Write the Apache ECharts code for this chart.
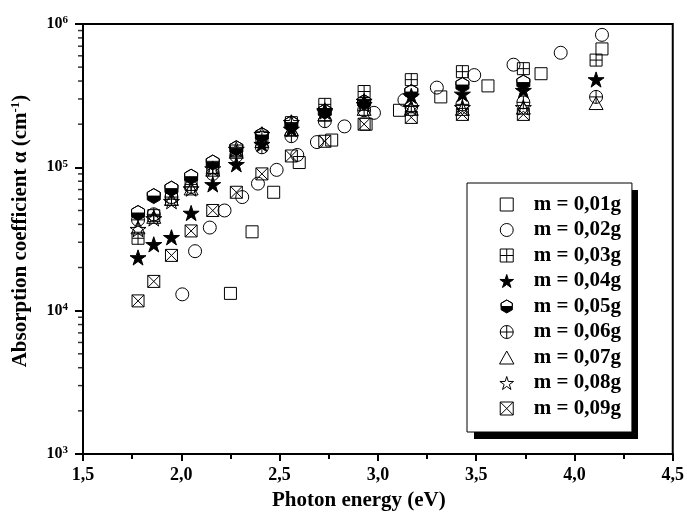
<!DOCTYPE html>
<html>
<head>
<meta charset="utf-8">
<script src="https://cdn.jsdelivr.net/npm/echarts@6/dist/echarts.min.js"></script>
<style>
html, body { margin: 0; padding: 0; background: #fff; }
#main { width: 687px; height: 516px; }
</style>
</head>
<body>
<div id="main"></div>
<script>
// photon energy (eV) shared by the m = 0,03 ... 0,09 g samples
var xCluster = [1.78, 1.86, 1.95, 2.05, 2.16, 2.28, 2.41, 2.56, 2.73, 2.93, 3.17, 3.43, 3.74, 4.11];

var x01 = [2.25, 2.36, 2.47, 2.60, 2.765, 2.94, 3.11, 3.32, 3.56, 3.83, 4.14];
var y01 = [1.32e4, 3.55e4, 6.7e4, 1.08e5, 1.55e5, 2.0e5, 2.5e5, 3.1e5, 3.7e5, 4.5e5, 6.7e5];

var x02 = [2.005, 2.07, 2.145, 2.22, 2.31, 2.39, 2.485, 2.59, 2.69, 2.83, 2.98, 3.135, 3.30, 3.49, 3.69, 3.93, 4.14];
var y02 = [1.3e4, 2.6e4, 3.8e4, 5.0e4, 6.2e4, 7.7e4, 9.6e4, 1.22e5, 1.5e5, 1.93e5, 2.4e5, 2.95e5, 3.6e5, 4.4e5, 5.2e5, 6.3e5, 8.4e5];

var y03 = [3.2e4, 4.6e4, 6.0e4, 7.6e4, 1.0e5, 1.3e5, 1.62e5, 2.05e5, 2.75e5, 3.38e5, 4.09e5, 4.65e5, 4.88e5, 5.6e5];
var y04 = [2.35e4, 2.9e4, 3.25e4, 4.8e4, 7.6e4, 1.05e5, 1.45e5, 1.85e5, 2.5e5, 2.9e5, 3.15e5, 3.25e5, 3.45e5, 4.1e5];
var y05 = [4.8e4, 6.3e4, 7.1e4, 8.6e4, 1.08e5, 1.36e5, 1.68e5, 2.03e5, 2.45e5, 2.85e5, 3.35e5, 3.75e5, 3.9e5];
var y06 = [4.3e4, 4.7e4, 6.2e4, 7.3e4, 9.0e4, 1.2e5, 1.38e5, 1.65e5, 2.1e5, 2.5e5, 2.66e5, 2.75e5, 2.84e5, 3.1e5];
var y07 = [3.8e4, 4.5e4, 6.0e4, 7.1e4, 9.6e4, 1.28e5, 1.52e5, 1.84e5, 2.34e5, 2.55e5, 2.55e5, 2.55e5, 2.6e5, 2.8e5];
var y08 = [3.7e4, 4.4e4, 5.8e4, 7.1e4, 9.8e4, 1.34e5, 1.7e5, 2.06e5, 2.45e5, 2.75e5, 2.62e5, 2.62e5, 2.62e5];
var y09 = [1.17e4, 1.6e4, 2.43e4, 3.6e4, 5.0e4, 6.7e4, 9.0e4, 1.2e5, 1.52e5, 2.0e5, 2.23e5, 2.34e5, 2.34e5];

var names = ['m = 0,01g', 'm = 0,02g', 'm = 0,03g', 'm = 0,04g', 'm = 0,05g',
             'm = 0,06g', 'm = 0,07g', 'm = 0,08g', 'm = 0,09g'];

// log axis minor ticks (2..9 of every decade)
var minorTickVals = [2e3, 3e3, 4e3, 5e3, 6e3, 7e3, 8e3, 9e3,
                     2e4, 3e4, 4e4, 5e4, 6e4, 7e4, 8e4, 9e4,
                     2e5, 3e5, 4e5, 5e5, 6e5, 7e5, 8e5, 9e5];

var SQ = 'path://M0,0L10,0L10,10L0,10Z';
var TRI = 'path://M5,0L10,9L0,9Z';
var SQ_PLUS = 'path://M0,0L10,0L10,10L0,10ZM5,0L5,10M0,5L10,5';
var SQ_X = 'path://M0,0L10,0L10,10L0,10ZM0,0L10,10M10,0L0,10';
var O_PLUS = 'path://M0,5A5,5,0,1,1,10,5A5,5,0,1,1,0,5ZM5,0L5,10M0,5L10,5';
var STAR = 'path://M50,0L61.17,34.63L97.55,34.55L68.07,55.87L79.39,90.45L50,69L20.61,90.45L31.93,55.87L2.45,34.55L38.83,34.63Z';
// lower half filled, upper half only outlined (zero-area retraced polygon)
var HEX = 'path://M0.67,5L9.33,5L9.33,7.5L5,10L0.67,7.5ZM0.67,5L0.67,2.5L5,0L9.33,2.5L9.33,5L9.33,2.5L5,0L0.67,2.5Z';

var FONT = '"Liberation Serif", "Times New Roman", serif';

function pairs(xs, ys) {
  var out = [];
  for (var i = 0; i < ys.length; i++) out.push([xs[i], ys[i]]);
  return out;
}

function mk(name, xs, ys, symbol, size, filled) {
  return {
    name: name,
    type: 'scatter',
    data: pairs(xs, ys),
    symbol: symbol,
    symbolSize: size,
    symbolKeepAspect: true,
    itemStyle: {
      color: filled ? '#000' : 'rgba(0,0,0,0)',
      borderColor: '#000',
      borderWidth: 1,
      opacity: 1
    },
    emphasis: { disabled: true }
  };
}

var series = [
  mk(names[0], x01, y01, SQ, 12, false),
  mk(names[1], x02, y02, 'circle', 13, false),
  mk(names[2], xCluster, y03, SQ_PLUS, 12, false),
  mk(names[3], xCluster, y04, STAR, 16, true),
  mk(names[4], xCluster, y05, HEX, 15, true),
  mk(names[5], xCluster, y06, O_PLUS, 13, false),
  mk(names[6], xCluster, y07, TRI, 14, false),
  mk(names[7], xCluster, y08, STAR, 16, false),
  mk(names[8], xCluster, y09, SQ_X, 12, false),
  {
    name: 'minorTicks',
    type: 'scatter',
    data: minorTickVals.map(function (v) { return [1.5, v]; }),
    symbol: 'rect',
    symbolSize: [5, 1.5],
    symbolOffset: [-2.5, 0],
    clip: false,
    silent: true,
    itemStyle: { color: '#000' },
    z: 5
  }
];

var myChart = echarts.init(document.getElementById('main'));
var option = {
  backgroundColor: '#fff',
  animation: false,
  grid: {
    left: 83, right: 13, top: 24, bottom: 59,
    show: true, borderColor: '#000', borderWidth: 2
  },
  // drop shadow behind the legend box
  graphic: [{
    type: 'rect',
    left: 474,
    top: 190,
    shape: { width: 164, height: 249 },
    style: { fill: '#000' },
    z: 50
  }],
  legend: {
    data: names,
    orient: 'vertical',
    left: 467,
    top: 183,
    padding: [11, 11, 13, 32],
    itemWidth: 44,
    itemHeight: 13,
    itemGap: 4.5,
    backgroundColor: '#fff',
    borderColor: '#000',
    borderWidth: 1,
    selectedMode: false,
    z: 60,
    itemStyle: { borderWidth: 1 },
    textStyle: {
      fontFamily: FONT, fontWeight: 'bold', fontSize: 21, lineHeight: 20, color: '#000'
    }
  },
  xAxis: {
    type: 'value',
    min: 1.5,
    max: 4.5,
    interval: 0.5,
    name: 'Photon energy (eV)',
    nameLocation: 'middle',
    nameGap: 36,
    nameTextStyle: {
      fontFamily: FONT, fontWeight: 'bold', fontSize: 21, color: '#000',
      padding: [0, 38, 0, 0]
    },
    axisLine: { lineStyle: { color: '#000', width: 2 } },
    axisTick: { length: 7, lineStyle: { color: '#000', width: 2 } },
    minorTick: { show: true, splitNumber: 2, length: 5, lineStyle: { color: '#000', width: 2 } },
    splitLine: { show: false },
    axisLabel: {
      margin: 12,
      fontFamily: FONT, fontWeight: 'bold', fontSize: 18, color: '#000',
      formatter: function (v) { return v.toFixed(1).replace('.', ','); }
    }
  },
  yAxis: {
    type: 'log',
    logBase: 10,
    min: 1e3,
    max: 1e6,
    name: 'Absorption coefficient α (cm{sup|-1})',
    nameLocation: 'middle',
    nameGap: 50,
    nameTextStyle: {
      fontFamily: FONT, fontWeight: 'bold', fontSize: 21, color: '#000',
      lineHeight: 24,
      padding: [0, 0, 0, 16],
      rich: {
        sup: { fontFamily: FONT, fontWeight: 'bold', fontSize: 13, lineHeight: 13, verticalAlign: 'top' }
      }
    },
    axisLine: { lineStyle: { color: '#000', width: 2 } },
    axisTick: { length: 8, lineStyle: { color: '#000', width: 2 } },
    splitLine: { show: false },
    axisLabel: {
      margin: 15,
      formatter: function (v) {
        return '{b|10}{s|' + Math.round(Math.log10(v)) + '}';
      },
      rich: {
        b: { fontFamily: FONT, fontWeight: 'bold', fontSize: 16, lineHeight: 18, color: '#000' },
        s: { fontFamily: FONT, fontWeight: 'bold', fontSize: 11, lineHeight: 11, color: '#000', verticalAlign: 'top' }
      }
    }
  },
  series: series
};
myChart.setOption(option);
</script>
</body>
</html>
